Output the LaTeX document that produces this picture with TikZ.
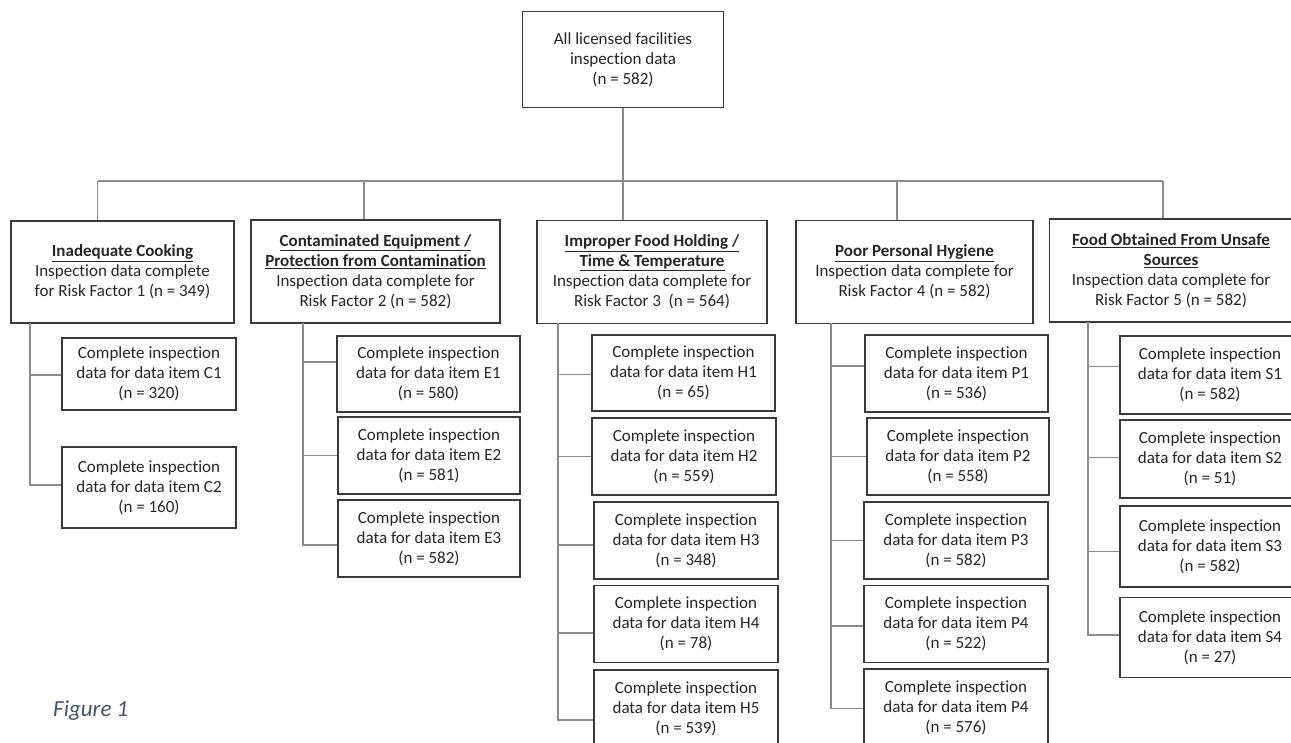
\documentclass[tikz,border=0pt]{standalone}
\usepackage{fontspec}
\setmainfont{Carlito}[Ligatures={NoCommon}]
\definecolor{boxc}{HTML}{3A3A3A}
\definecolor{linec}{HTML}{8C8C8C}
\definecolor{txt}{HTML}{262626}
\definecolor{capc}{HTML}{44546A}
\newcommand{\hd}[1]{\textbf{\underline{#1}}}
\begin{document}
\begin{tikzpicture}[x=1pt,y=-1pt,
  box/.style={draw=boxc, line width=1.4pt, rectangle, align=center, inner sep=0pt,
    text=txt, font=\fontsize{17}{20}\selectfont},
  conn/.style={draw=linec, line width=1.2pt}]
\clip (0,0) rectangle (1291,742);
% top
\node[box, minimum width=201pt, minimum height=96pt] (top) at (623,59.7)
  {All licensed facilities\\inspection data\\(n = 582)};
% risk factor boxes
\node[box, minimum width=223pt, minimum height=102pt] (B1) at (122.5,272)
  {\hd{Inadequate Cooking}\\Inspection data complete\\for Risk Factor 1 (n = 349)};
\node[box, minimum width=249pt, minimum height=103pt] (B2) at (375.5,271.5)
  {\hd{Contaminated Equipment /}\\\hd{Protection from Contamination}\\Inspection data complete for\\Risk Factor 2 (n = 582)};
\node[box, minimum width=230pt, minimum height=103pt] (B3) at (652,271.7)
  {\hd{Improper Food Holding /}\\\hd{Time \& Temperature}\\Inspection data complete for\\Risk Factor 3\ \ (n = 564)};
\node[box, minimum width=237pt, minimum height=103pt] (B4) at (914.5,271.7)
  {\hd{Poor Personal Hygiene}\\Inspection data complete for\\Risk Factor 4 (n = 582)};
\node[box, minimum width=243pt, minimum height=103pt] (B5) at (1171,270.5)
  {\hd{Food Obtained From Unsafe}\\\hd{Sources}\\Inspection data complete for\\Risk Factor 5 (n = 582)};
% C items
\node[box, minimum width=174pt, minimum height=72pt] (C1) at (149,374)
  {Complete inspection\\data for data item C1\\(n = 320)};
\node[box, minimum width=174pt, minimum height=81pt] (C2) at (149,487.5)
  {Complete inspection\\data for data item C2\\(n = 160)};
% E items
\node[box, minimum width=183pt, minimum height=76pt] (E1) at (428.5,374)
  {Complete inspection\\data for data item E1\\(n = 580)};
\node[box, minimum width=182pt, minimum height=77pt] (E2) at (429,455.5)
  {Complete inspection\\data for data item E2\\(n = 581)};
\node[box, minimum width=182pt, minimum height=77pt] (E3) at (429,538.5)
  {Complete inspection\\data for data item E3\\(n = 582)};
% H items
\node[box, minimum width=183pt, minimum height=76pt] (H1) at (683.5,373)
  {Complete inspection\\data for data item H1\\(n = 65)};
\node[box, minimum width=184pt, minimum height=77pt] (H2) at (684,456.4)
  {Complete inspection\\data for data item H2\\(n = 559)};
\node[box, minimum width=184pt, minimum height=77pt] (H3) at (686,540.5)
  {Complete inspection\\data for data item H3\\(n = 348)};
\node[box, minimum width=184pt, minimum height=77pt] (H4) at (686,624)
  {Complete inspection\\data for data item H4\\(n = 78)};
\node[box, minimum width=184pt, minimum height=77pt] (H5) at (686,708.5)
  {Complete inspection\\data for data item H5\\(n = 539)};
% P items
\node[box, minimum width=183pt, minimum height=77pt] (P1) at (956.5,373.4)
  {Complete inspection\\data for data item P1\\(n = 536)};
\node[box, minimum width=182pt, minimum height=77pt] (P2) at (958,456.4)
  {Complete inspection\\data for data item P2\\(n = 558)};
\node[box, minimum width=184pt, minimum height=77pt] (P3) at (956,540.5)
  {Complete inspection\\data for data item P3\\(n = 582)};
\node[box, minimum width=184pt, minimum height=77pt] (P4) at (956,624)
  {Complete inspection\\data for data item P4\\(n = 522)};
\node[box, minimum width=184pt, minimum height=77pt] (P5) at (956,707.5)
  {Complete inspection\\data for data item P4\\(n = 576)};
% S items
\node[box, minimum width=180pt, minimum height=78pt] (S1) at (1210,375)
  {Complete inspection\\data for data item S1\\(n = 582)};
\node[box, minimum width=180pt, minimum height=78pt] (S2) at (1210,459)
  {Complete inspection\\data for data item S2\\(n = 51)};
\node[box, minimum width=180pt, minimum height=81pt] (S3) at (1210,546.5)
  {Complete inspection\\data for data item S3\\(n = 582)};
\node[box, minimum width=180pt, minimum height=80pt] (S4) at (1210,637.5)
  {Complete inspection\\data for data item S4\\(n = 27)};
% caption
\node[anchor=base west, inner sep=0pt, text=capc, font=\fontsize{23}{26}\selectfont\itshape] (cap) at (53,716) {Figure 1};
% junctions
\coordinate (j1) at (97.7,181);
\coordinate (j2) at (364,181);
\coordinate (j3) at (623,181);
\coordinate (j4) at (897,181);
\coordinate (j5) at (1163,181);
\coordinate (t1) at (30,323);
\coordinate (t2) at (303,323);
\coordinate (t3) at (558,323.4);
\coordinate (t4) at (831,323.4);
\coordinate (t5) at (1088,322);
% top level connectors
\draw[conn] (top.south) -- (top.south |- B3.north);
\draw[conn] (j1) -- (j5);
\draw[conn] (j1) -- (j1 |- B1.north);
\draw[conn] (j2) -- (j2 |- B2.north);
\draw[conn] (j4) -- (j4 |- B4.north);
\draw[conn] (j5) -- (j5 |- B5.north);
% branch connectors
\draw[conn] (t1) |- ([yshift=-1pt]C1.west);
\draw[conn] (t1) |- ([yshift=2.5pt]C2.west);
\draw[conn] (t2) |- ([yshift=12pt]E1.west);
\draw[conn] (t2) |- (E2.west);
\draw[conn] (t2) |- ([yshift=-6.5pt]E3.west);
\draw[conn] (t3) |- ([yshift=-1.6pt]H1.west);
\draw[conn] (t3) |- (H2.west);
\draw[conn] (t3) |- ([yshift=-4.5pt]H3.west);
\draw[conn] (t3) |- ([yshift=-9pt]H4.west);
\draw[conn] (t3) |- ([yshift=-11.5pt]H5.west);
\draw[conn] (t4) |- ([yshift=7.5pt]P1.west);
\draw[conn] (t4) |- (P2.west);
\draw[conn] (t4) |- (P3.west);
\draw[conn] (t4) |- ([yshift=-2pt]P4.west);
\draw[conn] (t4) |- ([yshift=-1pt]P5.west);
\draw[conn] (t5) |- ([yshift=8.3pt]S1.west);
\draw[conn] (t5) |- ([yshift=1.3pt]S2.west);
\draw[conn] (t5) |- ([yshift=-5.2pt]S3.west);
\draw[conn] (t5) |- ([yshift=2.5pt]S4.west);
\end{tikzpicture}
\end{document}
